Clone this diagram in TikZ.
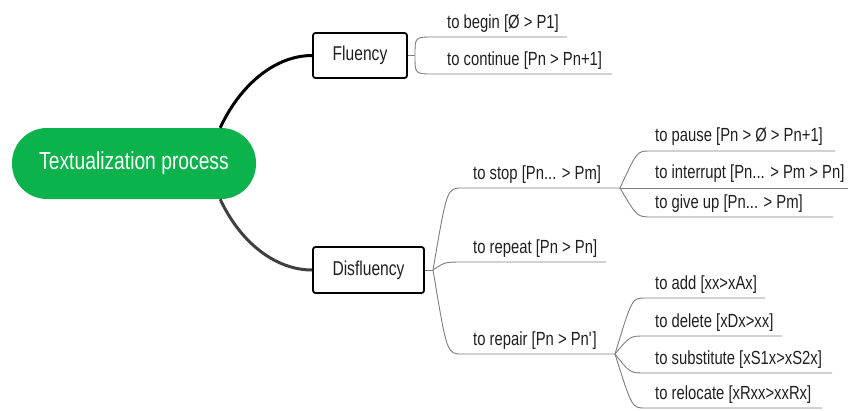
\documentclass[tikz,border=0pt]{standalone}
\usepackage{fontspec}
\setmainfont{Liberation Sans}[FakeStretch=0.78]
\usetikzlibrary{calc}

\definecolor{pillgreen}{RGB}{12,178,76}
\definecolor{branchgray}{RGB}{125,125,125}
\definecolor{lowgray}{RGB}{64,64,64}

\tikzset{
  topic/.style={draw=black, line width=1.8pt, rounded corners=2.5pt, minimum height=45pt,
    inner xsep=0pt, text=black!88, font=\fontsize{20}{24}\selectfont},
  leaf/.style={anchor=base west, inner sep=0pt, text=black!88, font=\fontsize{19}{23}\selectfont},
  branch/.style={draw=branchgray, line width=0.9pt},
  mainlink/.style={line width=3pt},
}

\begin{document}
\begin{tikzpicture}[x=1pt,y=-1pt]
\useasboundingbox (0,0) rectangle (849,410);

% Central topic and the two main topics
\node[fill=pillgreen, rounded corners=35pt, minimum width=244pt, minimum height=71pt,
  inner sep=0pt, text=white, font=\fontsize{24.7}{29}\selectfont] (root) at (134,163.5) {Textualization process};
\node[topic, minimum width=94pt] (flu) at (360,55.5) {Fluency};
\node[topic, minimum width=111pt, minimum height=46pt] (dis) at (368.5,270) {Disfluency};

% Main connectors
\draw[mainlink, black] ($(root.north east)+(-36,0)$) .. controls (240,85) and (275,55.5) .. (flu.west);
\draw[mainlink, lowgray] ($(root.south east)+(-36,0)$) .. controls (240,242) and (275,270) .. (dis.west);

% Junctions
\coordinate (fluJ) at (415,55.5);
\coordinate (disJ) at (433,270);
\coordinate (stopJ) at (620,188);
\coordinate (repJ) at (615,354);

% Fluency branches
\node[leaf] (begin) at (447,28) {to begin [Ø > P1]};
\node[leaf] (cont) at (447,65) {to continue [Pn > Pn+1]};
\draw[branch] (flu.east) -- (fluJ);
\draw[branch] (fluJ) .. controls (415,37) .. (433,37) -- (567,37);
\draw[branch] (fluJ) .. controls (415,74) .. (433,74) -- (612,74);

% Disfluency branches
\node[leaf] (stop) at (473,179) {to stop [Pn... > Pm]};
\node[leaf] (repeat) at (473,253) {to repeat [Pn > Pn]};
\node[leaf] (repair) at (473,345) {to repair [Pn > Pn\textquotesingle]};
\draw[branch] (dis.east) -- (disJ);
\draw[branch] (disJ) .. controls (447,188) .. (462,188) -- (stopJ);
\draw[branch] (disJ) .. controls (445,262) .. (463,262) -- (606,262);
\draw[branch] (disJ) .. controls (447,354) .. (462,354) -- (repJ);

% To stop
\node[leaf] (pause) at (655,141) {to pause [Pn > Ø > Pn+1]};
\node[leaf] (interrupt) at (655,178) {to interrupt [Pn... > Pm > Pn]};
\node[leaf] (giveup) at (655,208) {to give up [Pn... > Pm]};
\draw[branch] (stopJ) .. controls (637,151) .. (650,151) -- (835,151);
\draw[branch] (stopJ) -- (848,188);
\draw[branch] (stopJ) .. controls (637,217) .. (652,217) -- (833,217);

% To repair
\node[leaf] (add) at (655,289) {to add [xx>xAx]};
\node[leaf] (delete) at (655,327) {to delete [xDx>xx]};
\node[leaf] (subst) at (655,364) {to substitute [xS1x>xS2x]};
\node[leaf] (reloc) at (655,399) {to relocate [xRxx>xxRx]};
\draw[branch] (repJ) .. controls (632,298) .. (645,298) -- (765,298);
\draw[branch] (repJ) .. controls (630,336) .. (645,336) -- (782,336);
\draw[branch] (repJ) .. controls (630,373) .. (645,373) -- (832,373);
\draw[branch] (repJ) .. controls (632,408) .. (645,408) -- (822,408);

\end{tikzpicture}
\end{document}
